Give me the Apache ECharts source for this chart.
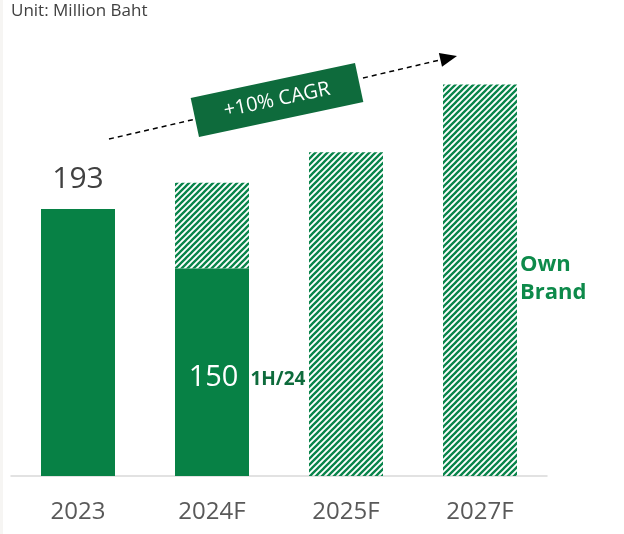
<!DOCTYPE html>
<html>
<head>
<meta charset="utf-8">
<script src="https://cdn.jsdelivr.net/npm/echarts@6/dist/echarts.min.js"></script>
<style>
  html, body { margin: 0; padding: 0; background: #ffffff; }
  #chart { width: 624px; height: 534px; }
</style>
</head>
<body>
<div id="chart"></div>
<script>
// Own Brand revenue, million Baht
const categories = ['2023', '2024F', '2025F', '2027F'];
const actualValues = [193, 150, null, null];     // reported (2024 = first half)
const forecastValues = [null, 62, 234, 283];     // forecast portion stacked on top

const FONT = '"Open Sans", "Noto Sans", sans-serif';
const GREEN = '#078145';
const DARK_GREEN = '#0e6b3c';

// diagonal hatch tile for forecast bars
function hatchTile(color) {
  const s = 6;
  const c = document.createElement('canvas');
  c.width = s; c.height = s;
  const g = c.getContext('2d');
  g.strokeStyle = color;
  g.lineWidth = 2.3;
  g.beginPath();
  g.moveTo(0, s); g.lineTo(s, 0);
  g.moveTo(-s / 2, s / 2); g.lineTo(s / 2, -s / 2);
  g.moveTo(s / 2, s * 1.5); g.lineTo(s * 1.5, s / 2);
  g.stroke();
  return c;
}

const actualData = actualValues.map((v, i) => {
  if (v == null) return v;
  if (i === 0) {
    return {
      value: v,
      label: {
        show: true, position: 'top', distance: 15,
        fontSize: 30, color: '#404040', fontFamily: FONT
      }
    };
  }
  return {
    value: v,
    label: {
      show: true, position: 'insideBottom', distance: 84, offset: [35, 0],
      formatter: '{v|' + v + '}{s|1H/24}',
      rich: {
        v: { fontSize: 29, color: '#ffffff', fontFamily: FONT, verticalAlign: 'bottom', padding: [0, 12, 0, 0] },
        s: { fontSize: 19, color: DARK_GREEN, fontWeight: 'bold', fontFamily: FONT, verticalAlign: 'bottom', padding: [0, 0, 3, 0] }
      }
    }
  };
});

const chart = echarts.init(document.getElementById('chart'), null, { renderer: 'canvas' });

// dashed growth arrow
const tip = [457, 56];
const dir = [0.974, -0.225];
const nrm = [0.225, 0.974];
const base = [tip[0] - 17 * dir[0], tip[1] - 17 * dir[1]];

chart.setOption({
  animation: false,
  backgroundColor: '#ffffff',
  grid: { left: 11, right: 77, top: 61, bottom: 58 },
  xAxis: {
    type: 'category',
    data: categories,
    axisLine: { lineStyle: { color: '#d9d9d9', width: 1.5 } },
    axisTick: { show: false },
    axisLabel: { fontSize: 24, color: '#595959', fontFamily: FONT, margin: 24 }
  },
  yAxis: {
    type: 'value', min: 0, max: 300,
    show: false, splitLine: { show: false }
  },
  series: [
    {
      name: 'Actual', type: 'bar', stack: 'total', barWidth: 74,
      itemStyle: { color: GREEN },
      data: actualData
    },
    {
      name: 'Forecast', type: 'bar', stack: 'total', barWidth: 74,
      itemStyle: { color: { image: hatchTile('#08844a'), repeat: 'repeat' } },
      data: forecastValues
    }
  ],
  graphic: [
    { type: 'rect', shape: { x: 0, y: 0, width: 3, height: 534 }, style: { fill: '#f6f5f3' } },
    {
      type: 'text', left: 11, top: 3,
      style: { text: 'Unit: Million Baht', fontSize: 17, fill: '#404040', fontFamily: FONT }
    },
    {
      type: 'line',
      shape: { x1: 109, y1: 139, x2: 196, y2: 119 },
      style: { stroke: '#000000', lineWidth: 1.5, lineDash: [5, 4] }
    },
    {
      type: 'line',
      shape: { x1: 363, y1: 78, x2: base[0], y2: base[1] },
      style: { stroke: '#000000', lineWidth: 1.5, lineDash: [5, 4] }
    },
    {
      type: 'polygon',
      shape: {
        points: [
          tip,
          [base[0] + 7 * nrm[0], base[1] + 7 * nrm[1]],
          [base[0] - 7 * nrm[0], base[1] - 7 * nrm[1]]
        ]
      },
      style: { fill: '#000000' }
    },
    {
      type: 'group', x: 277, y: 100, rotation: 12 * Math.PI / 180,
      children: [
        { type: 'rect', shape: { x: -84, y: -20, width: 168, height: 40 }, style: { fill: DARK_GREEN } },
        {
          type: 'text', x: 0, y: 0,
          style: {
            text: '+10% CAGR', fontSize: 20, fill: '#ffffff', fontFamily: FONT,
            align: 'center', verticalAlign: 'middle'
          }
        }
      ]
    },
    {
      type: 'text', left: 520, top: 251,
      style: {
        text: 'Own\nBrand', fontSize: 22, fontWeight: 'bold', lineHeight: 28,
        fill: '#0d8a4a', fontFamily: FONT
      }
    }
  ]
});
</script>
</body>
</html>
